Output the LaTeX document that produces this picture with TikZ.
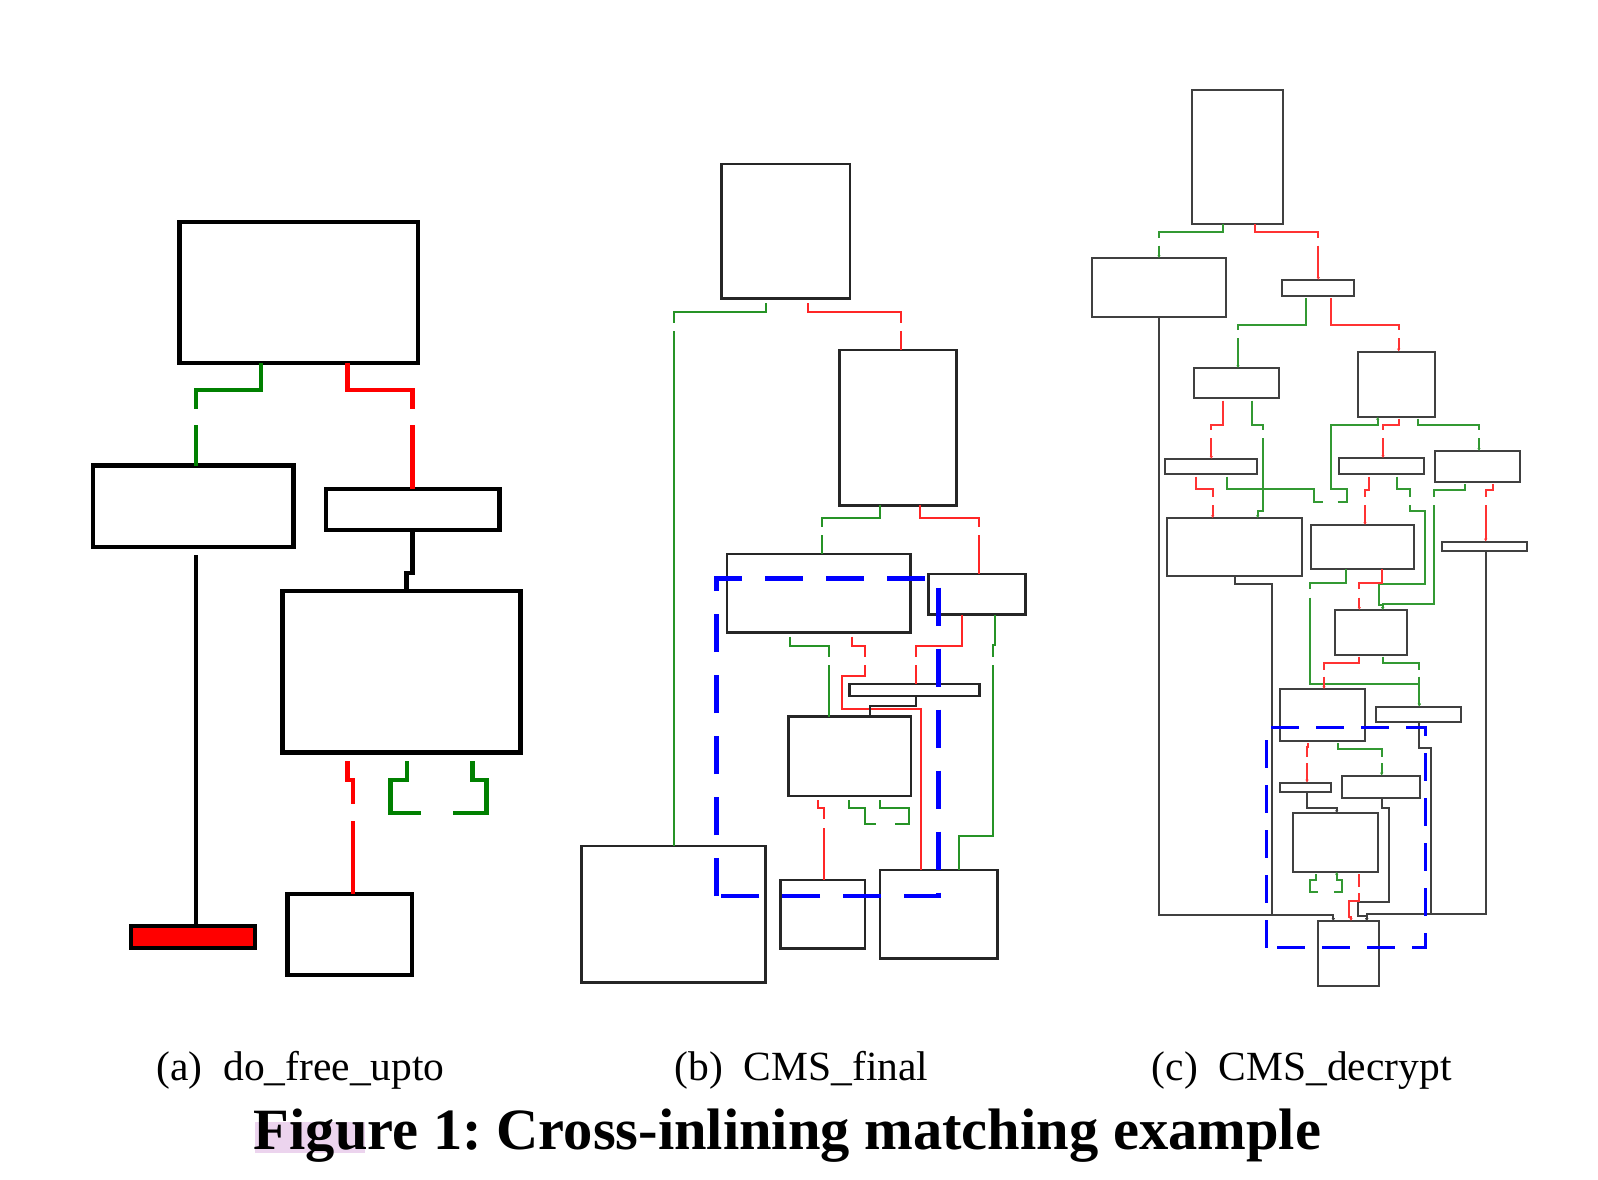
\documentclass[tikz,border=0pt]{standalone}
\usepackage{fontspec}
\setmainfont{Liberation Serif}
\usetikzlibrary{arrows.meta}
\definecolor{truegreen}{RGB}{0,128,0}
\definecolor{falsered}{RGB}{255,0,0}
\definecolor{matchblue}{RGB}{0,0,255}
\definecolor{marker}{RGB}{236,212,238}
\begin{document}
\frenchspacing
\begin{tikzpicture}[
  x=1pt,y=-1pt,
  >={Latex[length=3pt,width=3.5pt]},
  sz/.style 2 args={minimum width=#1pt,minimum height=#2pt},
  blk/.style={draw,inner sep=0pt,outer sep=0pt},
  boxa/.style={blk,line width=4.4pt},
  boxb/.style={blk,draw=black!85,line width=2.6pt},
  boxc/.style={blk,draw=black!75,line width=1.9pt},
  ga/.style={draw=truegreen,line width=4.6pt},
  ra/.style={draw=falsered,line width=4.6pt},
  ka/.style={draw=black,line width=4.6pt},
  gb/.style={draw=truegreen!85!white,line width=2.3pt},
  rb/.style={draw=falsered!85!white,line width=2.3pt},
  kb/.style={draw=black!85,line width=2.3pt},
  gc/.style={draw=truegreen!80!white,line width=1.7pt,->},
  rc/.style={draw=falsered!80!white,line width=1.7pt,->},
  kc/.style={draw=black!75,line width=1.7pt,->},
  hit/.style={draw=matchblue,line width=#1},
  subcap/.style={anchor=base,font=\fontsize{41.5}{48}\selectfont},
]
\useasboundingbox (0,0) rectangle (1598,1180);

% ---- (a) do_free_upto ----
\node[boxa,sz={238.5}{141.1}] (a1) at (298.75,292.25) {};
\node[boxa,sz={200.3}{81.7}]  (a2) at (193.35,506.35) {};
\node[boxa,sz={173.6}{41.4}]  (a3) at (412.5,509.5) {};
\node[boxa,sz={238}{161.8}]   (a4) at (401.3,671.6) {};
\node[boxa,fill=falsered,sz={124.4}{22}] (a5) at (193,936.8) {};
\node[boxa,sz={124.7}{80.7}]  (a6) at (349.85,934.35) {};
\draw[ga] (260.8,0 |- a1.south) -- (260.8,390) -- (195.8,390) -- (195.8,409)
          (195.8,425) -- (195.8,0 |- a2.north);
\draw[ra] (347.2,0 |- a1.south) -- (347.2,390) -- (412.3,390) -- (412.3,409)
          (412.3,425) -- (412.3,0 |- a3.north);
\draw[ka] (196,0 |- a2.south) ++(0,8) -- (196,0 |- a5.north);
\draw[ka] (412.3,0 |- a3.south) -- (412.3,573) -- (406.7,573) -- (406.7,0 |- a4.north);
\draw[ra] (347.3,0 |- a4.south) ++(0,8.5) -- (347.3,780) -- (352.8,780) -- (352.8,804)
          (352.8,821) -- (352.8,0 |- a6.north);
\draw[ga] (406.8,0 |- a4.south) ++(0,8.5) -- (406.8,780) -- (390.7,780) -- (390.7,813) -- (420.7,813);
\draw[ga] (472.5,0 |- a4.south) ++(0,8.5) -- (472.5,780) -- (486.3,780) -- (486.3,813) -- (453.3,813);

% ---- (b) CMS_final ----
\node[boxb,sz={128.3}{134.7}] (b1) at (785.85,231.35) {};
\node[boxb,sz={117.4}{155.3}] (b2) at (898,427.65) {};
\node[boxb,sz={183.7}{78.3}]  (b3) at (818.85,593.15) {};
\node[boxb,sz={97.4}{40.7}]   (b4) at (977,594.35) {};
\node[boxb,sz={130}{12}]      (b5) at (914.3,690) {};
\node[boxb,sz={122.7}{79.3}]  (b6) at (849.65,756.35) {};
\node[boxb,sz={184}{136.3}]   (b7) at (673.7,914.15) {};
\node[boxb,sz={84.3}{68.3}]   (b8) at (822.85,914.15) {};
\node[boxb,sz={117.7}{88.3}]  (b9) at (938.85,914.15) {};
\draw[gb] (766,0 |- b1.south) ++(0,4.5) -- (766,312) -- (673.7,312) -- (673.7,322.7)
          (673.7,331) -- (673.7,0 |- b7.north);
\draw[rb] (808.3,0 |- b1.south) ++(0,4.5) -- (808.3,312) -- (900.7,312) -- (900.7,322.7)
          (900.7,331) -- (900.7,0 |- b2.north);
\draw[gb] (880.3,0 |- b2.south) -- (880.3,518) -- (821.7,518) -- (821.7,526.7)
          (821.7,535) -- (821.7,0 |- b3.north);
\draw[rb] (920.3,0 |- b2.south) -- (920.3,518) -- (979.3,518) -- (979.3,526.7)
          (979.3,535) -- (979.3,0 |- b4.north);
\draw[gb] (790,0 |- b3.south) ++(0,4.4) -- (790,646) -- (829.3,646) -- (829.3,656.7)
          (829.3,665) -- (829.3,0 |- b6.north);
\draw[rb] (851.7,0 |- b3.south) ++(0,4.4) -- (851.7,646) -- (865,646) -- (865,656.7)
          (865,665) -- (865,676) -- (841.7,676) -- (841.7,709.3) -- (920.7,709.3) -- (920.7,0 |- b9.north);
\draw[rb] (961.7,0 |- b4.south) -- (961.7,646) -- (915.7,646) -- (915.7,656.7)
          (915.7,665) -- (915.7,0 |- b5.north);
\draw[gb] (995,0 |- b4.south) -- (995,645) -- (992.7,645) -- (992.7,656.7)
          (992.7,665) -- (992.7,836) -- (959,836) -- (959,0 |- b9.north);
\draw[kb] (915.7,0 |- b5.south) -- (915.7,706) -- (870,706) -- (870,0 |- b6.north);
\draw[rb] (818.3,0 |- b6.south) ++(0,4) -- (818.3,808.3) -- (824.3,808.3) -- (824.3,819.3)
          (824.3,828.3) -- (824.3,0 |- b8.north);
\draw[gb] (849.3,0 |- b6.south) ++(0,4) -- (849.3,808.3) -- (865,808.3) -- (865,824) -- (876,824);
\draw[gb] (880,0 |- b6.south) ++(0,4) -- (880,808.3) -- (909,808.3) -- (909,824) -- (895,824);
\draw[hit=4.7pt,dash pattern=on 38pt off 23pt] (716.7,896) rectangle (938.7,578.3);

% ---- (c) CMS_decrypt ----
\node[boxc,sz={91.6}{134}]  (c1)  at (1237.5,157) {};
\node[boxc,sz={134}{58.4}]  (c2)  at (1158.7,287.5) {};
\node[boxc,sz={72}{15.7}]   (c3)  at (1317.7,287.85) {};
\node[boxc,sz={84.7}{30}]   (c4)  at (1236.65,383.3) {};
\node[boxc,sz={77.6}{65}]   (c5)  at (1396.5,384.2) {};
\node[boxc,sz={91.7}{15.3}] (c6)  at (1210.85,466.65) {};
\node[boxc,sz={84.7}{16}]   (c7)  at (1381.65,466.3) {};
\node[boxc,sz={84.7}{30.7}] (c8)  at (1477.65,466.35) {};
\node[boxc,sz={134.4}{57.7}] (c9) at (1234.5,547.15) {};
\node[boxc,sz={103}{44}]    (c10) at (1362.8,547) {};
\node[boxc,sz={84.7}{9}]    (c11) at (1484.35,546.2) {};
\node[boxc,sz={72.3}{45}]   (c12) at (1371.15,632.5) {};
\node[boxc,sz={85}{51.4}]   (c13) at (1322.5,715) {};
\node[boxc,sz={85}{15.6}]   (c14) at (1418.2,714.5) {};
\node[boxc,sz={51}{9}]      (c15) at (1305.5,787.2) {};
\node[boxc,sz={78}{22.6}]   (c16) at (1381,787) {};
\node[boxc,sz={85}{58.4}]   (c17) at (1335.2,842.5) {};
\node[boxc,sz={61}{64.7}]   (c18) at (1348.8,953.35) {};
\draw[gc] (1222.7,0 |- c1.south) -- (1222.7,232.3) -- (1159,232.3) -- (1159,238.3)
          (1159,245.7) -- (1159,0 |- c2.north);
\draw[rc] (1254.7,0 |- c1.south) -- (1254.7,232.3) -- (1318.3,232.3) -- (1318.3,238.3)
          (1318.3,245.7) -- (1318.3,0 |- c3.north);
\draw[kc] (1159,0 |- c2.south) -- (1159,915) -- (1333.3,915) -- (1333.3,0 |- c18.north);
\draw[kc] (1235,0 |- c9.south) -- (1235,584.3) -- (1271.7,584.3) -- (1271.7,915) -- (1333.3,915) -- (1333.3,0 |- c18.north);
\draw[gc] (1305.7,0 |- c3.south) ++(0,2.6) -- (1305.7,325) -- (1238,325) -- (1238,330)
          (1238,338.3) -- (1238,0 |- c4.north);
\draw[rc] (1330.7,0 |- c3.south) ++(0,2.6) -- (1330.7,325) -- (1398.7,325) -- (1398.7,330)
          (1398.7,338.3) -- (1398.7,0 |- c5.north);
\draw[rc] (1222.7,0 |- c4.south) ++(0,2.4) -- (1222.7,425) -- (1211.3,425) -- (1211.3,430)
          (1211.3,438.3) -- (1211.3,0 |- c6.north);
\draw[gc] (1252,0 |- c4.south) ++(0,2.4) -- (1252,425) -- (1263.3,425) -- (1263.3,430)
          (1263.3,438.3) -- (1263.3,511) -- (1257.7,511) -- (1257.7,0 |- c9.north);
% back edge into c5
\draw[gc] (1226.7,0 |- c6.south) ++(0,2.4) -- (1226.7,489.3) -- (1314.3,489.3) -- (1314.3,501.7) -- (1322.7,501.7)
          (1337.7,501.7) -- (1346.7,501.7) -- (1346.7,489.3) -- (1330.7,489.3) -- (1330.7,425) -- (1377.7,425) -- (1377.7,0 |- c5.south);
\draw[rc] (1398.7,0 |- c5.south) ++(0,1.8) -- (1398.7,425) -- (1383,425) -- (1383,430)
          (1383,438.3) -- (1383,0 |- c7.north);
\draw[gc] (1418.3,0 |- c5.south) ++(0,1.8) -- (1418.3,425) -- (1479,425) -- (1479,430)
          (1479,438.3) -- (1479,0 |- c8.north);
\draw[rc] (1196,0 |- c6.south) ++(0,2.4) -- (1196,489.3) -- (1212.7,489.3) -- (1212.7,496.7)
          (1212.7,505) -- (1212.7,0 |- c9.north);
\draw[rc] (1368.7,0 |- c7.south) ++(0,2.4) -- (1368.7,490) -- (1365,490) -- (1365,496.7)
          (1365,505) -- (1365,0 |- c10.north);
\draw[gc] (1397,0 |- c7.south) ++(0,2.4) -- (1397,489.3) -- (1410,489.3) -- (1410,496.7)
          (1410,505) -- (1410,511) -- (1425.3,511) -- (1425.3,584.3) -- (1379.3,584.3) -- (1379.3,605) -- (1382.7,605) -- (1382.7,0 |- c12.north);
\draw[gc] (1465,0 |- c8.south) ++(0,2.6) -- (1465,490) -- (1434,490) -- (1434,496.7)
          (1434,505) -- (1434,604) -- (1382.7,604) -- (1382.7,0 |- c12.north);
\draw[rc] (1493.3,0 |- c8.south) ++(0,2.6) -- (1493.3,490) -- (1485.7,490) -- (1485.7,496.7)
          (1485.7,505) -- (1485.7,0 |- c11.north);
\draw[kc] (1486,0 |- c11.south) -- (1486,914.3) -- (1366.7,914.3) -- (1366.7,0 |- c18.north);
\draw[gc] (1346.3,0 |- c10.south) -- (1346.3,582.7) -- (1310,582.7) -- (1310,589.3)
          (1310,597.7) -- (1310,684.3) -- (1419.3,684.3) -- (1419.3,0 |- c14.north);
\draw[rc] (1381.7,0 |- c10.south) -- (1381.7,582.7) -- (1359.3,582.7) -- (1359.3,589.3)
          (1359.3,597.7) -- (1359.3,0 |- c12.north);
\draw[rc] (1359.3,0 |- c12.south) ++(0,1.7) -- (1359.3,663.3) -- (1324,663.3) -- (1324,670)
          (1324,676.7) -- (1324,0 |- c13.north);
\draw[gc] (1382.7,0 |- c12.south) ++(0,1.7) -- (1382.7,663.3) -- (1419.3,663.3) -- (1419.3,670)
          (1419.3,676.7) -- (1419.3,0 |- c14.north);
\draw[kc] (1419.3,0 |- c14.south) -- (1419.3,748.3) -- (1431,748.3) -- (1431,914.3) -- (1366.7,914.3) -- (1366.7,0 |- c18.north);
\draw[rc] (1308.3,0 |- c13.south) ++(0,2.6) -- (1308.3,747) -- (1307,747) -- (1307,756.7)
          (1307,763.3) -- (1307,0 |- c15.north);
\draw[gc] (1338.3,0 |- c13.south) ++(0,2.6) -- (1338.3,749) -- (1381.7,749) -- (1381.7,756.7)
          (1381.7,763.3) -- (1381.7,0 |- c16.north);
\draw[kc] (1307,0 |- c15.south) -- (1307,808.3) -- (1336.7,808.3) -- (1336.7,0 |- c17.north);
\draw[kc] (1381.7,0 |- c16.south) -- (1381.7,808.3) -- (1388.7,808.3) -- (1388.7,901.7) -- (1357.7,901.7)
          -- (1357.7,915.7) -- (1366.7,915.7) -- (1366.7,0 |- c18.north);
% self loop on c17
\draw[gc] (1315.7,0 |- c17.south) ++(0,2.6) -- (1315.7,880) -- (1310,880) -- (1310,891.7) -- (1318.3,891.7)
          (1334,891.7) -- (1342.3,891.7) -- (1342.3,880) -- (1336.7,880) -- (1336.7,0 |- c17.south);
\draw[rc] (1359.3,0 |- c17.south) ++(0,2.6) -- (1359.3,886.7)
          (1359.3,893.3) -- (1359.3,901) -- (1349.3,901) -- (1349.3,916.7) -- (1351,916.7) -- (1351,0 |- c18.north);
\draw[hit=3.5pt,dash pattern=on 28pt off 17pt] (1266.7,947.7) rectangle (1425.3,727.3);

% ---- captions ----
\fill[marker] (255,1121.7) rectangle (365,1153);
\node[subcap] (capa) at (300.5,1080) {(a)\enspace do\_free\_upto};
\node[subcap] (capb) at (801.5,1080) {(b)\enspace CMS\_final};
\node[subcap] (capc) at (1301.8,1080) {(c)\enspace CMS\_decrypt};
\node[anchor=base,font=\fontsize{58.5}{66}\selectfont\bfseries] (title) at (787.5,1149.5)
  {Figure 1: Cross-inlining matching example};
\end{tikzpicture}
\end{document}
